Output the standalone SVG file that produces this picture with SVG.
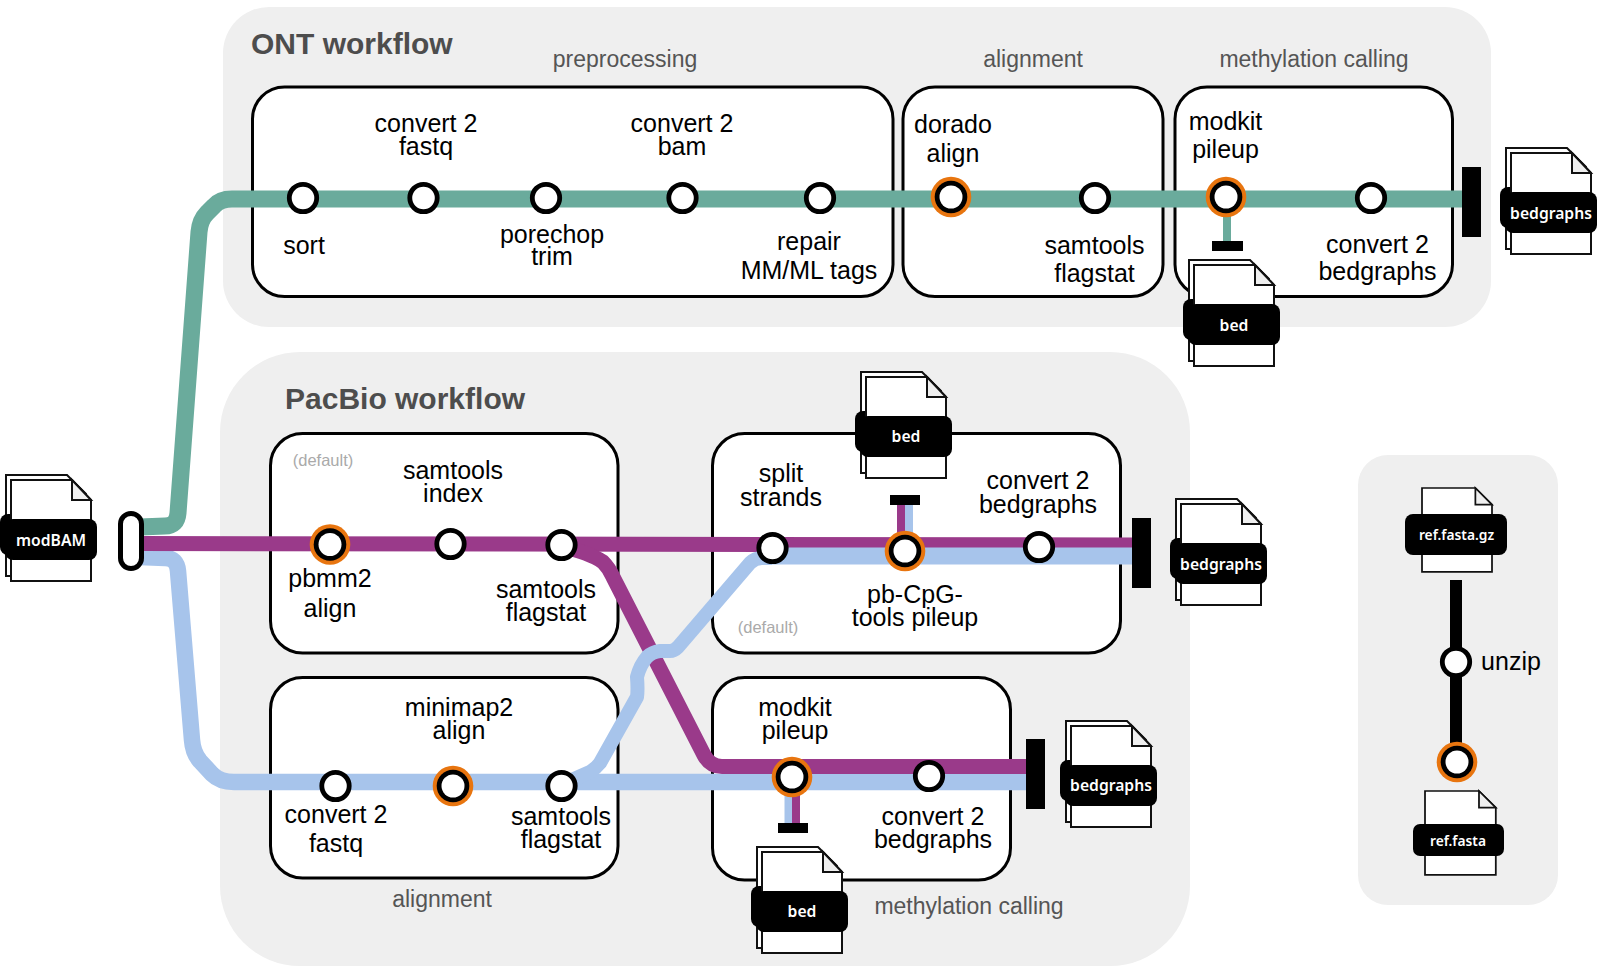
<svg xmlns="http://www.w3.org/2000/svg" width="1598" height="967" viewBox="0 0 1598 967">
<style>
text{font-family:"Liberation Sans",Arial,sans-serif;font-size:25px;fill:#000;text-anchor:middle}
.panel{fill:#efefef}
.box{fill:#fff;stroke:#000;stroke-width:3}
.title{font-size:30px;font-weight:700;fill:#4d4d4d;text-anchor:start}
.sec{font-size:23px;fill:#555}
.def{font-size:16.5px;fill:#aaa}
.ft{font-family:"Noto Sans","DejaVu Sans",sans-serif;font-weight:600;font-size:15.7px;fill:#fff}
.line{fill:none;stroke-linejoin:round}
.g{stroke:#6aab9c;stroke-width:17}
.p{stroke:#9a3a8a;stroke-width:15}
.b{stroke:#a7c4eb;stroke-width:16.500}
.st{fill:#fff;stroke:#000;stroke-width:4.800}
.pg{fill:#fff;stroke:#111;stroke-width:2}
.fold{fill:#efefef;stroke:#111;stroke-width:2}
</style>
<defs>
<g id="page"><path class="pg" d="M0 0H61L80 20V101H0Z"/><path class="fold" d="M61 0V20H80Z"/></g>
<g id="file"><path class="pg" d="M-5 -5H56L75 14V96H-5Z"/><rect x="-11" y="34" width="92" height="41" rx="8" fill="#000"/><use href="#page"/><rect x="-6" y="39" width="92" height="41" rx="8" fill="#000"/></g>
<circle id="stn" class="st" r="13.700"/>
<g id="key"><circle r="20.300" fill="#e8750f"/><circle r="16.300" fill="#000"/><circle r="11.500" fill="#fff"/></g>
</defs>

<g id="panels">
<rect class="panel" x="223" y="7" width="1268" height="320" rx="46"/>
<rect class="panel" x="220" y="352" width="970" height="614" rx="80"/>
<rect class="panel" x="1358" y="455" width="200" height="450" rx="30"/>
</g>
<g id="boxes">
<rect class="box" x="252.500" y="87" width="640.500" height="209.500" rx="32"/>
<rect class="box" x="903" y="87" width="260" height="209.500" rx="32"/>
<rect class="box" x="1175" y="87" width="277.500" height="209.500" rx="32"/>
<rect class="box" x="270.500" y="433.500" width="347.500" height="219.500" rx="32"/>
<rect class="box" x="712.500" y="433.500" width="408" height="219.500" rx="32"/>
<rect class="box" x="270.500" y="677.500" width="347.500" height="200.500" rx="32"/>
<rect class="box" x="712.500" y="677.500" width="298" height="202.500" rx="32"/>
</g>
<g id="section-labels">
<text class="title" x="251" y="54">ONT workflow</text>
<text class="title" x="285" y="409">PacBio workflow</text>
<text class="sec" x="625" y="67">preprocessing</text>
<text class="sec" x="1033" y="67">alignment</text>
<text class="sec" x="1314" y="67">methylation calling</text>
<text class="sec" x="442" y="907">alignment</text>
<text class="sec" x="969" y="914">methylation calling</text>
<text class="def" x="323" y="466">(default)</text>
<text class="def" x="768" y="633">(default)</text>
</g>
<g id="connectors">
<path class="line g" d="M140 527L165 526Q177 526 178 513L199 232Q200 220 207 213L214 206Q220 199 232 199L1462 199"/>
<path class="line" stroke="#6aab9c" stroke-width="8" d="M1227 199V241"/>
<path class="line b" d="M140 557L165 558Q177 558 178 571L192 740Q193 753 200 761L212 774Q220 782 234 782L1026 782"/>
<path class="line p" d="M140 543.500L1133 545"/>
<path class="line" stroke="#a7c4eb" stroke-width="17" d="M772 556L1133 556"/>
<path class="line p" d="M561 546Q590 553 603 562Q609 568 613 577L704 755Q710 766.500 722 766.500L1026 766.500"/>
<path class="line" stroke="#a7c4eb" stroke-width="14" d="M772 558L762 558Q755 558 750 563L678 647Q674 651 670 651L660 651Q652 652 647 657Q640 665 637 677Q638 690 637 697L600 763Q596 768 590 772L565 783"/>
<path class="line" stroke="#9a3a8a" stroke-width="8" d="M901 505V545"/>
<path class="line" stroke="#a7c4eb" stroke-width="8" d="M909 505V555"/>
<path class="line" stroke="#a7c4eb" stroke-width="8" d="M788.500 780V824"/>
<path class="line" stroke="#9a3a8a" stroke-width="8" d="M796 780V824"/>
<path class="line" stroke="#000" stroke-width="12" d="M1456 580V760"/>
</g>
<g id="terminators" fill="#000">
<rect x="120.500" y="513.500" width="21" height="55" rx="10.500" fill="#fff" stroke="#000" stroke-width="5"/>
<rect x="1462" y="167" width="19" height="70"/>
<rect x="1212" y="241" width="31" height="10"/>
<rect x="1132" y="518" width="19" height="70"/>
<rect x="890" y="495" width="30" height="10"/>
<rect x="1026" y="739" width="19" height="70"/>
<rect x="778" y="823" width="30" height="10"/>
</g>

<g id="n-sort"><use href="#stn" x="303" y="198"/><text x="304" y="254">sort</text></g>
<g id="n-fastq1"><use href="#stn" x="423.500" y="198"/><text x="426" y="132">convert 2</text><text x="426" y="155">fastq</text></g>
<g id="n-porechop"><use href="#stn" x="546" y="198"/><text x="552" y="243">porechop</text><text x="552" y="265">trim</text></g>
<g id="n-bam"><use href="#stn" x="682.500" y="198"/><text x="682" y="132">convert 2</text><text x="682" y="155">bam</text></g>
<g id="n-repair"><use href="#stn" x="820" y="198"/><text x="809" y="250">repair</text><text x="809" y="279">MM/ML tags</text></g>
<g id="n-dorado"><use href="#key" x="951" y="197"/><text x="953" y="133">dorado</text><text x="953" y="162">align</text></g>
<g id="n-flagstat1"><use href="#stn" x="1095" y="198"/><text x="1094.500" y="254">samtools</text><text x="1094.500" y="282">flagstat</text></g>
<g id="n-modkit1"><use href="#key" x="1226" y="197"/><text x="1225.500" y="130">modkit</text><text x="1225.500" y="158">pileup</text></g>
<g id="n-bedgraph1"><use href="#stn" x="1371" y="198"/><text x="1377.500" y="253">convert 2</text><text x="1377.500" y="280">bedgraphs</text></g>

<g id="n-pbmm2"><use href="#key" x="330" y="544.500"/><text x="330" y="587">pbmm2</text><text x="330" y="617">align</text></g>
<g id="n-index"><use href="#stn" x="450.500" y="544"/><text x="453" y="479">samtools</text><text x="453" y="502">index</text></g>
<g id="n-flagstat2"><use href="#stn" x="561.500" y="545"/><text x="546" y="598">samtools</text><text x="546" y="621">flagstat</text></g>
<g id="n-split"><use href="#stn" x="772.500" y="548"/><text x="781" y="482">split</text><text x="781" y="506">strands</text></g>
<g id="n-pbcpg"><use href="#key" x="905" y="551"/><text x="915" y="603">pb-CpG-</text><text x="915" y="625.500">tools pileup</text></g>
<g id="n-bedgraph2"><use href="#stn" x="1039" y="547"/><text x="1038" y="489">convert 2</text><text x="1038" y="512.500">bedgraphs</text></g>
<g id="n-fastq2"><use href="#stn" x="335.500" y="786"/><text x="336" y="823">convert 2</text><text x="336" y="852">fastq</text></g>
<g id="n-minimap"><use href="#key" x="453" y="786"/><text x="459" y="716">minimap2</text><text x="459" y="739">align</text></g>
<g id="n-flagstat3"><use href="#stn" x="561.500" y="786"/><text x="561" y="825">samtools</text><text x="561" y="848">flagstat</text></g>
<g id="n-modkit2"><use href="#key" x="792" y="777"/><text x="795" y="716">modkit</text><text x="795" y="739">pileup</text></g>
<g id="n-bedgraph3"><use href="#stn" x="929" y="776"/><text x="933" y="825">convert 2</text><text x="933" y="848">bedgraphs</text></g>

<g id="n-unzip"><use href="#stn" x="1456" y="662"/><text x="1511" y="670">unzip</text></g>
<g id="n-ref"><use href="#key" x="1457" y="762"/></g>

<g id="f-modbam"><g transform="translate(11 480)"><use href="#file"/><text class="ft" x="40" y="66">modBAM</text></g></g>
<g id="f-bed1"><g transform="translate(1194 265)"><use href="#file"/><text class="ft" x="40" y="66">bed</text></g></g>
<g id="f-bedgraphs1"><g transform="translate(1511 153)"><use href="#file"/><text class="ft" x="40" y="66">bedgraphs</text></g></g>
<g id="f-bed2"><g transform="translate(866 377)"><use href="#file"/><text class="ft" x="40" y="65">bed</text></g></g>
<g id="f-bedgraphs2"><g transform="translate(1181 504)"><use href="#file"/><text class="ft" x="40" y="66">bedgraphs</text></g></g>
<g id="f-bed3"><g transform="translate(762 852)"><use href="#file"/><text class="ft" x="40" y="65">bed</text></g></g>
<g id="f-bedgraphs3"><g transform="translate(1071 726)"><use href="#file"/><text class="ft" x="40" y="65">bedgraphs</text></g></g>
<g id="f-fastagz"><use href="#page" transform="translate(1422 488) scale(.875 .83)"/><rect x="1405" y="514" width="102" height="41" rx="8" fill="#000"/><text class="ft" style="font-size:13.800px" x="1456.500" y="540">ref.fasta.gz</text></g>
<g id="f-fasta"><use href="#page" transform="translate(1425 791) scale(.885 .83)"/><rect x="1413" y="824" width="91" height="32" rx="7" fill="#000"/><text class="ft" style="font-size:13.800px" x="1458" y="846">ref.fasta</text></g>
</svg>
